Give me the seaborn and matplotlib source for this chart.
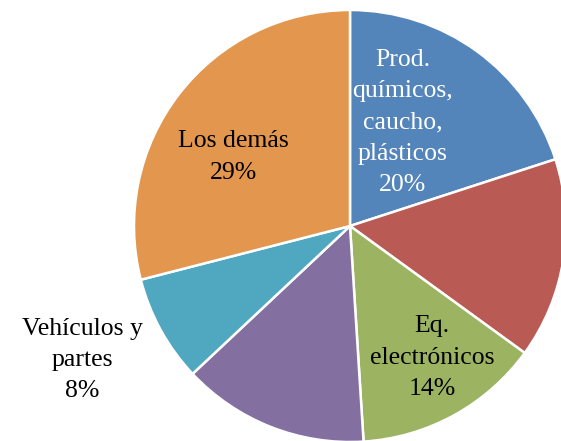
import matplotlib
matplotlib.use('Agg')
import matplotlib.pyplot as plt
import seaborn as sns

# slices clockwise from 12 o'clock
categories = ['Prod.\nquímicos,\ncaucho,\nplásticos', 'Otros 1', 'Eq.\nelectrónicos', 'Otros 2', 'Vehículos y\npartes', 'Los demás']
shares = [20, 15, 14, 14, 8, 29]
show_label = [True, False, True, False, True, True]
label_colors = ['white', 'black', 'black', 'black', 'black', 'black']
label_pos = [(0.245, 0.48), None, (0.38, -0.61), None, (-1.24, -0.62), (-0.54, 0.32)]
COLORS = ['#5384BA', '#B95B54', '#9CB461', '#8470A0', '#4FA8BF', '#E2964E']

sns.set_style('white')
plt.rcParams['font.family'] = ['Liberation Serif', 'DejaVu Serif']

fig = plt.figure(figsize=(5.61, 4.41), dpi=100)
W, H = 561, 441
cx, cy, r = 350, 226, 216
ax = fig.add_axes([(cx - r) / W, (H - cy - r) / H, 2 * r / W, 2 * r / H])

wedges, _ = ax.pie(shares, colors=COLORS, startangle=90, counterclock=False, radius=1,
                   wedgeprops={'edgecolor': 'white', 'linewidth': 1.8})
for w in wedges:
    w.set_clip_on(False)
ax.set_xlim(-1, 1)
ax.set_ylim(-1, 1)
ax.set_aspect('equal')
ax.axis('off')

for cat, s, show, col, pos in zip(categories, shares, show_label, label_colors, label_pos):
    if not show:
        continue
    ax.text(pos[0], pos[1], f'{cat}\n{s}%', ha='center', va='center', fontsize=18.5,
            color=col, linespacing=1.55, clip_on=False)

fig.savefig('out.png', dpi=100)
